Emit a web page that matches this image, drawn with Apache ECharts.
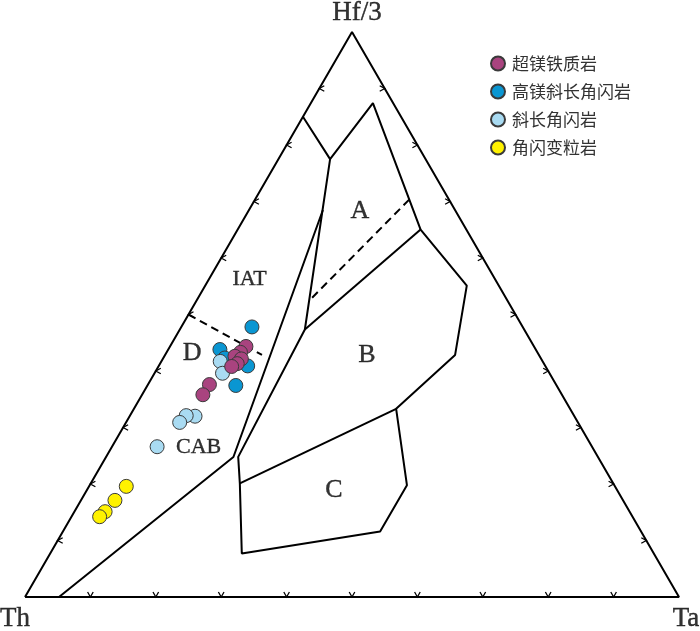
<!DOCTYPE html>
<html>
<head>
<meta charset="utf-8">
<script src="https://cdn.jsdelivr.net/npm/echarts@6/dist/echarts.min.js"></script>
<style>
  html, body { margin: 0; padding: 0; background: #fff; }
  #main { width: 700px; height: 631px; }
</style>
</head>
<body>
<div id="main"></div>
<script>
// all points are [Th, Hf/3, Ta] in percent
const seriesNames = ['超镁铁质岩', '高镁斜长角闪岩', '斜长角闪岩', '角闪变粒岩'];
const colors = ['#a9437f', '#0a96d2', '#a9dbf2', '#fff200'];

const ultramafic = [
    [44.0, 44.3, 11.6], [45.4, 43.3, 11.3], [46.6, 42.6, 10.8], [45.8, 42.1, 12.0],
    [46.9, 41.3, 11.8], [48.0, 40.8, 11.2], [53.0, 37.6, 9.4], [54.9, 35.8, 9.3]
];
const highMgAmph = [
    [41.4, 47.8, 10.8], [48.3, 43.8, 7.9], [48.3, 42.3, 9.4], [45.5, 40.9, 13.6], [49.0, 37.4, 13.5]
];
const plagAmph = [
    [49.3, 41.7, 9.0], [50.0, 39.6, 10.4], [58.0, 32.0, 10.0],
    [59.3, 32.1, 8.6], [60.9, 30.9, 8.2], [66.5, 26.6, 6.9]
];
const hbGranulite = [
    [74.8, 19.6, 5.7], [77.7, 17.1, 5.2], [80.2, 15.1, 4.7], [81.4, 14.2, 4.3]
];

// Wood (1980) field boundaries
const outline = [[100, 0, 0], [0, 0, 100], [0, 100, 0], [100, 0, 0]];
const fieldOuter = [
    [15.0, 85.0, 0], [14.6, 77.5, 7.9], [3.1, 87.4, 9.5], [7.0, 65.1, 28.0], [4.9, 55.1, 40.0],
    [12.8, 42.8, 44.3], [26.6, 33.3, 40.1], [31.7, 19.8, 48.5], [39.9, 11.6, 48.5],
    [63.0, 7.7, 29.3], [57.1, 20.1, 22.8], [55.0, 24.8, 20.2], [33.5, 47.3, 19.1], [14.6, 77.5, 7.9]
];
const lineAB = [[7.0, 65.1, 28.0], [33.5, 47.3, 19.1]];
const lineBC = [[26.6, 33.3, 40.1], [57.1, 20.1, 22.8]];
const lineD = [[20.2, 68.5, 11.3], [55.8, 24.8, 19.5], [94.8, 0, 5.2]];
const dashA = [[6.1, 70.4, 23.6], [29.7, 52.9, 17.4]];
const dashD = [[50.0, 50.0, 0], [42.3, 42.8, 14.8]];

const fieldLabels = ['A', 'B', 'C', 'D', 'IAT', 'CAB'];
const fieldLabelPos = [
    [14.7, 68.2, 17.1], [26.3, 42.8, 30.9], [43.3, 18.9, 37.8],
    [52.9, 43.1, 4.0], [37.5, 56.2, 6.2], [60.2, 26.5, 13.3]
];
const vertexNames = ['Th', 'Hf/3', 'Ta'];
const tickSteps = [10, 20, 30, 40, 50, 60, 70, 80, 90];

const H = Math.sqrt(3) / 2 * 100;
function toXY(p) {
    const s = p[0] + p[1] + p[2];
    const hf = p[1] / s * 100, ta = p[2] / s * 100;
    return [ta + hf / 2, hf * Math.sqrt(3) / 2];
}

// chevron ticks: [x, y, edge] edge 0 bottom, 1 left, 2 right
const ticks = [];
tickSteps.forEach(function (t) {
    ticks.push(toXY([100 - t, 0, t]).concat(0));
    ticks.push(toXY([100 - t, t, 0]).concat(1));
    ticks.push(toXY([0, t, 100 - t]).concat(2));
});
const arms = [
    [[-2.8, -5], [2.8, -5]],
    [[5, -2.8], [5, 2.8]],
    [[-5, -2.8], [-5, 2.8]]
];

function boundary(pts, dashed) {
    return {
        type: 'line',
        data: pts.map(toXY),
        symbol: 'none',
        silent: true,
        z: 2,
        lineStyle: { color: '#000', width: 2, type: dashed ? [8, 5] : 'solid' }
    };
}

function pointSeries(i, pts) {
    return {
        name: seriesNames[i],
        type: 'scatter',
        data: pts.map(toXY),
        symbolSize: 14,
        z: 5,
        itemStyle: { color: colors[i], borderColor: '#3a3a3a', borderWidth: 1, opacity: 1 }
    };
}

const labelFont = 'Liberation Serif, Times New Roman, serif';

const option = {
    animation: false,
    backgroundColor: '#fff',
    grid: { left: 25, right: 21, top: 32, bottom: 34 },
    xAxis: { type: 'value', min: 0, max: 100, show: false },
    yAxis: { type: 'value', min: 0, max: H, show: false },
    legend: {
        data: seriesNames,
        orient: 'vertical',
        left: 485,
        top: 50,
        itemWidth: 14,
        itemHeight: 14,
        itemGap: 11,
        icon: 'circle',
        textStyle: {
            fontSize: 17,
            color: '#333',
            fontFamily: 'Noto Sans CJK SC',
            padding: [0, 0, 0, 2]
        }
    },
    series: [
        boundary(outline, false),
        boundary(fieldOuter, false),
        boundary(lineAB, false),
        boundary(lineBC, false),
        boundary(lineD, false),
        boundary(dashA, true),
        boundary(dashD, true),
        {
            type: 'custom',
            silent: true,
            data: ticks,
            encode: { x: 0, y: 1 },
            renderItem: function (params, api) {
                const c = api.coord([api.value(0), api.value(1)]);
                const a = arms[api.value(2)];
                return {
                    type: 'polyline',
                    shape: { points: [[c[0] + a[0][0], c[1] + a[0][1]], c, [c[0] + a[1][0], c[1] + a[1][1]]] },
                    style: { stroke: '#000', lineWidth: 1.3, fill: null }
                };
            }
        },
        pointSeries(1, highMgAmph),
        pointSeries(2, plagAmph),
        pointSeries(0, ultramafic),
        pointSeries(3, hbGranulite),
        {
            type: 'scatter',
            silent: true,
            symbolSize: 0,
            data: fieldLabelPos.map(function (p, i) {
                return {
                    value: toXY(p),
                    name: fieldLabels[i],
                    label: { fontSize: i < 4 ? 26 : 22 }
                };
            }),
            label: {
                show: true,
                position: 'inside',
                formatter: '{b}',
                color: '#000',
                textBorderColor: '#000',
                textBorderWidth: 0.4,
                fontFamily: labelFont
            },
            labelLayout: { hideOverlap: false }
        },
        {
            type: 'scatter',
            silent: true,
            symbolSize: 0,
            data: [
                { value: toXY([100, 0, 0]), name: vertexNames[0], label: { offset: [-10, 22] } },
                { value: toXY([0, 100, 0]), name: vertexNames[1], label: { offset: [5, -19] } },
                { value: toXY([0, 0, 100]), name: vertexNames[2], label: { offset: [7, 22] } }
            ],
            label: {
                show: true,
                position: 'inside',
                formatter: '{b}',
                color: '#000',
                textBorderColor: '#000',
                textBorderWidth: 0.4,
                fontFamily: labelFont,
                fontSize: 27
            }
        }
    ]
};

const chart = echarts.init(document.getElementById('main'));
chart.setOption(option);
</script>
</body>
</html>
